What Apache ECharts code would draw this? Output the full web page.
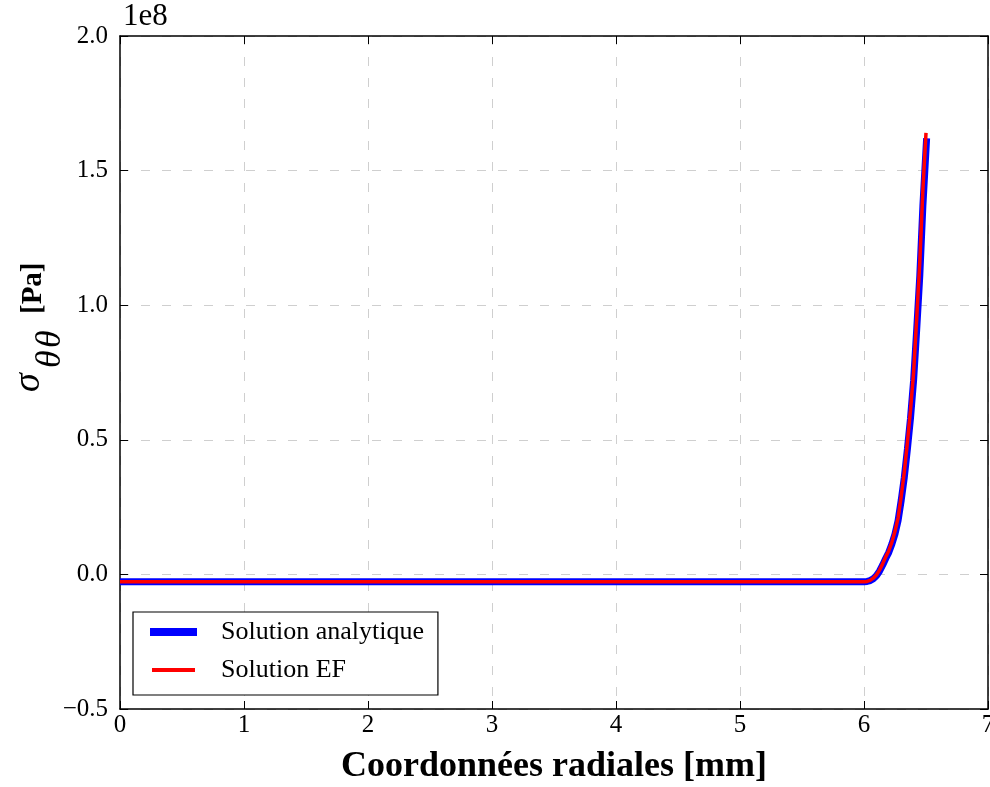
<!DOCTYPE html>
<html><head><meta charset="utf-8">
<script src="https://cdn.jsdelivr.net/npm/echarts@6/dist/echarts.min.js"></script>
<style>html,body{margin:0;padding:0;background:#fff}#c{width:990px;height:787px}</style>
</head><body><div id="c"></div>
<script>
// Radial coordinate (mm) and hoop stress (Pa)
const rAnalytic = [0, 1, 2, 3, 4, 5, 5.9, 6.0, 6.025, 6.05, 6.075, 6.1, 6.125, 6.15, 6.175, 6.2, 6.225, 6.25, 6.275, 6.3, 6.325, 6.35, 6.375, 6.4, 6.425, 6.45, 6.475, 6.505];
const sAnalytic = [-2.7e6, -2.7e6, -2.7e6, -2.7e6, -2.7e6, -2.7e6, -2.7e6, -2.7e6, -2.6e6, -2.3e6, -1.6e6, -0.5e6, 1.2e6, 3.4e6, 5.9e6, 8.2e6, 11.3e6, 15e6, 20e6, 27.5e6, 36e6, 46.5e6, 58e6, 72e6, 91e6, 111e6, 137e6, 162e6];
const rEF = [0, 1, 2, 3, 4, 5, 5.9, 6.0, 6.025, 6.05, 6.075, 6.1, 6.125, 6.15, 6.175, 6.2, 6.225, 6.25, 6.275, 6.3, 6.325, 6.35, 6.375, 6.4, 6.425, 6.45, 6.475, 6.5];
const sEF = [-2.7e6, -2.7e6, -2.7e6, -2.7e6, -2.7e6, -2.7e6, -2.7e6, -2.7e6, -2.6e6, -2.2e6, -1.4e6, -0.2e6, 1.6e6, 3.9e6, 6.5e6, 8.8e6, 12e6, 16e6, 21e6, 29e6, 38e6, 49e6, 61e6, 75e6, 95e6, 116e6, 143e6, 164e6];
const seriesNames = ['Solution analytique', 'Solution EF'];
const xTicks = {min: 0, max: 7, interval: 1};
const yTicks = {min: -0.5e8, max: 2.0e8, interval: 0.5e8};

const font = '"Liberation Serif", "DejaVu Serif", serif';
const pairs = (xs, ys) => xs.map((x, i) => [x, ys[i]]);
const yFmt = v => { const t = (v / 1e8).toFixed(1); return v < 0 ? '\u2212' + t.slice(1) : t; };
const grid = {show: true, lineStyle: {color: '#cfcfcf', type: [9, 12], width: 1}};
const frame = {show: true, onZero: false, lineStyle: {color: '#000', width: 1.5}};
const tick = {show: true, inside: true, length: 8, lineStyle: {color: '#000', width: 1}};
const chart = echarts.init(document.getElementById('c'));
chart.setOption({
  animation: false,
  backgroundColor: '#fff',
  grid: {left: 120, right: 2, top: 36, bottom: 78, containLabel: false, outerBoundsMode: 'none'},
  xAxis: [{
    type: 'value', min: xTicks.min, max: xTicks.max, interval: xTicks.interval,
    axisLine: frame, axisTick: tick,
    axisLabel: {color: '#000', fontFamily: font, fontSize: 25, margin: 4, showMaxLabel: true},
    splitLine: grid,
    name: 'Coordonnées radiales [mm]', nameLocation: 'middle', nameGap: 40,
    nameTextStyle: {color: '#000', fontFamily: font, fontSize: 36, fontWeight: 'bold'}
  }, {
    type: 'value', position: 'top', min: xTicks.min, max: xTicks.max, interval: xTicks.interval,
    axisLine: frame, axisTick: tick, axisLabel: {show: false}, splitLine: {show: false}
  }],
  yAxis: [{
    type: 'value', min: yTicks.min, max: yTicks.max, interval: yTicks.interval,
    axisLine: frame, axisTick: tick,
    axisLabel: {color: '#000', fontFamily: font, fontSize: 25, margin: 12, formatter: yFmt},
    splitLine: grid
  }, {
    type: 'value', position: 'right', min: yTicks.min, max: yTicks.max, interval: yTicks.interval,
    axisLine: frame, axisTick: tick, axisLabel: {show: false}, splitLine: {show: false}
  }],
  legend: {
    left: 133, top: 612, orient: 'vertical', itemGap: 12, itemWidth: 47, itemHeight: 8,
    padding: [7, 14, 12, 15], borderColor: '#000', borderWidth: 1.2, backgroundColor: '#fff',
    selectedMode: false,
    textStyle: {color: '#000', fontFamily: font, fontSize: 26, padding: [0, 0, 0, 19]},
    data: [
      {name: seriesNames[0], icon: 'rect', itemStyle: {color: '#0000ff', borderWidth: 0}},
      {name: seriesNames[1], icon: 'rect', itemStyle: {color: '#ff0000', borderColor: '#fff', borderWidth: 4}}
    ]
  },
  graphic: [
    {type: 'text', left: 123, top: 1, style: {text: '1e8', fontFamily: font, fontSize: 31, fill: '#000'}},
    {type: 'group', x: 0, y: 392, rotation: Math.PI / 2, children: [
      {type: 'text', x: 0, y: 29, style: {text: '\u03c3', fontFamily: font, fontSize: 38, fontStyle: 'italic', fill: '#000', align: 'left', verticalAlign: 'middle'}},
      {type: 'text', x: 24, y: 51, style: {text: '\u03b8', fontFamily: font, fontSize: 36, fontStyle: 'italic', fill: '#000', align: 'left', verticalAlign: 'middle'}},
      {type: 'text', x: 44, y: 51, style: {text: '\u03b8', fontFamily: font, fontSize: 36, fontStyle: 'italic', fill: '#000', align: 'left', verticalAlign: 'middle'}},
      {type: 'text', x: 78, y: 34, style: {text: '[Pa]', fontFamily: font, fontSize: 29, fontWeight: 'bold', fill: '#000', align: 'left', verticalAlign: 'middle'}}
    ]}
  ],
  series: [{
    name: seriesNames[0], type: 'line', symbol: 'none', data: pairs(rAnalytic, sAnalytic),
    lineStyle: {color: '#0000ff', width: 7}, itemStyle: {color: '#0000ff'}, z: 2
  }, {
    name: seriesNames[1], type: 'line', symbol: 'none', data: pairs(rEF, sEF),
    lineStyle: {color: '#ff0000', width: 3.5}, itemStyle: {color: '#ff0000'}, z: 3
  }]
});
</script></body></html>
